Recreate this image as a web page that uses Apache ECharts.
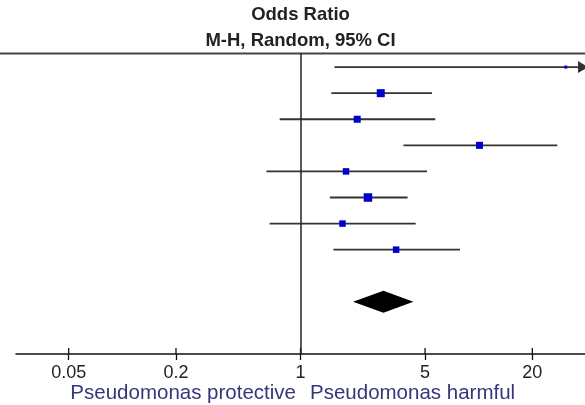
<!DOCTYPE html>
<html>
<head>
<meta charset="utf-8">
<script src="https://cdn.jsdelivr.net/npm/echarts@6/dist/echarts.min.js"></script>
<style>
html,body{margin:0;padding:0;background:#fff;}
#chart{width:585px;height:405px;}
</style>
</head>
<body>
<div id="chart"></div>
<script>
// ---- Data ----
var rows      = [0, 1, 2, 3, 4, 5, 6, 7];              // study rows, top to bottom
var oddsRatio = [30.8, 2.82, 2.08, 10.1, 1.80, 2.39, 1.72, 3.44];
var ciLower   = [1.55, 1.49, 0.764, 3.78, 0.643, 1.46, 0.671, 1.53];
var ciUpper   = [300, 5.47, 5.71, 27.6, 5.13, 3.99, 4.43, 7.85];
var weights   = [2.3, 16.0, 12.3, 12.3, 10.6, 18.1, 10.6, 10.6];  // box weights (%)
var pooledRow = 9;
var pooled    = [1.97, 2.92, 4.30];                    // lower, estimate, upper
var tickValues = [0.05, 0.2, 1, 5, 20];
var tickLabels = ['0.05', '0.2', '1', '5', '20'];
var titleLines = ['Odds Ratio', 'M-H, Random, 95% CI'];
var favoursLeft = 'Pseudomonas protective';
var favoursRight = 'Pseudomonas harmful';

var X_MIN = 0.0253, X_MAX = 39.5;
var Y_MIN = -0.54, Y_MAX = 11;
var FONT = '"Liberation Sans", Arial, sans-serif';

var studyData = rows.map(function (r, i) {
  return [ciLower[i], oddsRatio[i], ciUpper[i], r, weights[i]];
});

function renderStudy(params, api) {
  var lo = api.value(0), est = api.value(1), hi = api.value(2), row = api.value(3), w = api.value(4);
  var hiClamped = Math.min(hi, X_MAX);
  var pLo = api.coord([lo, row]);
  var pHi = api.coord([hiClamped, row]);
  var pE = api.coord([est, row]);
  var s = 2 * Math.sqrt(w);
  var children = [{
    type: 'line',
    shape: {x1: pLo[0], y1: pLo[1], x2: pHi[0], y2: pHi[1]},
    style: {stroke: '#333', lineWidth: 1.8}
  }, {
    type: 'rect',
    shape: {x: pE[0] - s / 2, y: pE[1] - s / 2, width: s, height: s},
    style: {fill: '#0000cc'}
  }];
  if (hi > X_MAX) {
    children.push({
      type: 'polygon',
      shape: {points: [[pHi[0] - 7, pHi[1] - 6], [pHi[0] + 3, pHi[1]], [pHi[0] - 7, pHi[1] + 6]]},
      style: {fill: '#333'}
    });
  }
  return {type: 'group', children: children};
}

function renderDiamond(params, api) {
  var lo = api.value(0), est = api.value(1), hi = api.value(2), row = api.value(3);
  var a = api.coord([lo, row]), c = api.coord([est, row]), b = api.coord([hi, row]);
  var h = 11;
  return {
    type: 'polygon',
    shape: {points: [[a[0], a[1]], [c[0], c[1] - h], [b[0], b[1]], [c[0], c[1] + h]]},
    style: {fill: '#000'}
  };
}

// upper half of the crossing tick marks on the bottom axis
function renderTickUp(params, api) {
  var p = api.coord([api.value(0), Y_MAX]);
  return {
    type: 'line',
    shape: {x1: p[0], y1: p[1], x2: p[0], y2: p[1] - 6},
    style: {stroke: '#111', lineWidth: 1.3}
  };
}

var GRID_TOP = 53, GRID_BOTTOM = 51;
var tickStyle = {color: '#111', width: 1.3, type: 'solid'};

var chart = echarts.init(document.getElementById('chart'), null, {renderer: 'canvas'});
chart.setOption({
  animation: false,
  backgroundColor: '#fff',
  grid: {left: 16, right: 0, top: GRID_TOP, bottom: GRID_BOTTOM},
  xAxis: {
    type: 'log', logBase: 10, min: X_MIN, max: X_MAX, position: 'bottom',
    axisLine: {show: true, onZero: false, lineStyle: {color: '#111', width: 1.5}},
    axisTick: {show: true, inside: false, length: 6, customValues: tickValues, lineStyle: tickStyle},
    axisLabel: {
      customValues: tickValues, margin: 10, fontSize: 18, fontFamily: FONT, color: '#222',
      formatter: function (v) { var i = tickValues.indexOf(v); return i >= 0 ? tickLabels[i] : String(v); }
    },
    splitLine: {show: false}, minorTick: {show: false}
  },
  yAxis: {type: 'value', inverse: true, min: Y_MIN, max: Y_MAX, show: false},
  graphic: [{
    type: 'line', shape: {x1: 0, y1: 53.5, x2: 585, y2: 53.5},
    style: {stroke: '#444', lineWidth: 2}
  }, {
    type: 'text', x: 300.5, y: 14.5,
    style: {text: titleLines[0], fontSize: 18.5, fontWeight: 'bold', fontFamily: FONT, fill: '#222', align: 'center', verticalAlign: 'middle'}
  }, {
    type: 'text', x: 300.5, y: 40.5,
    style: {text: titleLines[1], fontSize: 18.5, fontWeight: 'bold', fontFamily: FONT, fill: '#222', align: 'center', verticalAlign: 'middle'}
  }, {
    type: 'text', x: 296, y: 393.5,
    style: {text: favoursLeft, fontSize: 20.5, fontFamily: FONT, fill: '#35357a', align: 'right', verticalAlign: 'middle'}
  }, {
    type: 'text', x: 310, y: 393.5,
    style: {text: favoursRight, fontSize: 20.5, fontFamily: FONT, fill: '#35357a', align: 'left', verticalAlign: 'middle'}
  }],
  series: [{
    type: 'custom', name: 'Studies',
    renderItem: renderStudy, data: studyData, clip: false,
    encode: {x: [0, 1, 2], y: 3},
    markLine: {
      silent: true, symbol: ['none', 'none'], label: {show: false},
      lineStyle: {color: '#222', width: 1.5, type: 'solid'},
      data: [{xAxis: 1}]
    }
  }, {
    type: 'custom', name: 'Pooled',
    renderItem: renderDiamond, data: [[pooled[0], pooled[1], pooled[2], pooledRow]],
    encode: {x: [0, 1, 2], y: 3}
  }, {
    type: 'custom', name: 'TickMarks', silent: true, clip: false,
    renderItem: renderTickUp, data: tickValues.map(function (v) { return [v]; }),
    encode: {x: 0}
  }]
});
</script>
</body>
</html>
